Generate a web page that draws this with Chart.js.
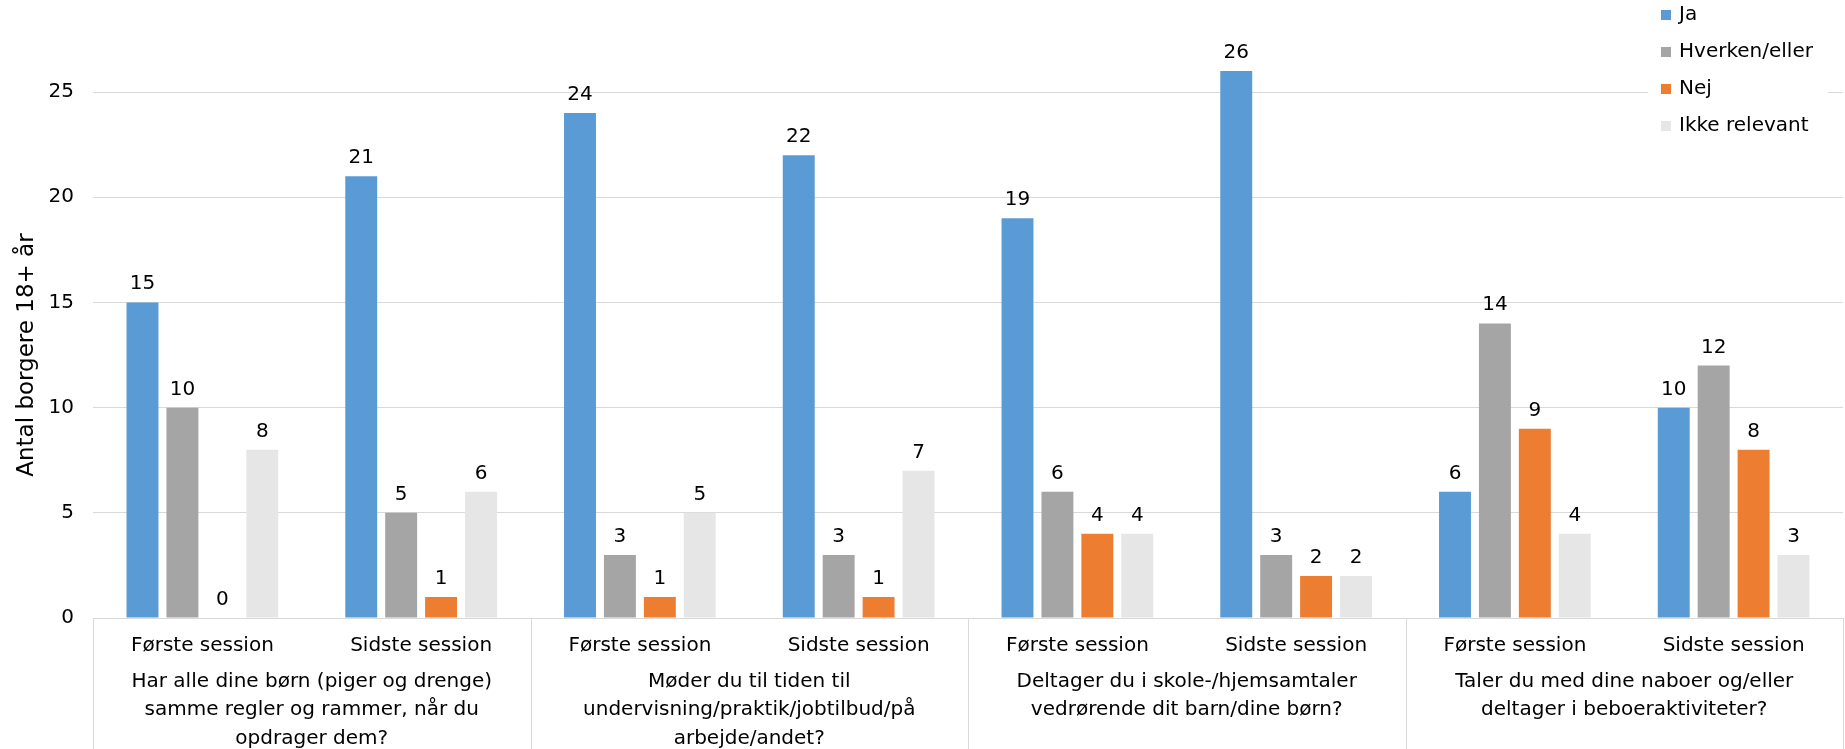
<!DOCTYPE html>
<html>
<head>
<meta charset="utf-8">
<script src="https://cdn.jsdelivr.net/npm/chart.js@4.4.1/dist/chart.umd.min.js"></script>
<style>
  html, body { margin: 0; padding: 0; background: #fff; }
</style>
</head>
<body>
<canvas id="surveyChart" width="1845" height="749"></canvas>
<script>
const sessions = ['Første session', 'Sidste session', 'Første session', 'Sidste session',
                  'Første session', 'Sidste session', 'Første session', 'Sidste session'];
const questions = [
  ['Har alle dine børn (piger og drenge)', 'samme regler og rammer, når du', 'opdrager dem?'],
  ['Møder du til tiden til', 'undervisning/praktik/jobtilbud/på', 'arbejde/andet?'],
  ['Deltager du i skole-/hjemsamtaler', 'vedrørende dit barn/dine børn?'],
  ['Taler du med dine naboer og/eller', 'deltager i beboeraktiviteter?']
];
const seriesNames = ['Ja', 'Hverken/eller', 'Nej', 'Ikke relevant'];
const ja = [15, 21, 24, 22, 19, 26, 6, 10];
const hverken = [10, 5, 3, 3, 6, 3, 14, 12];
const nej = [0, 1, 1, 1, 4, 2, 9, 8];
const ikkeRelevant = [8, 6, 5, 7, 4, 2, 4, 3];
const seriesColors = ['#5B9BD5', '#A5A5A5', '#ED7D31', '#E7E6E6'];
const yTicks = [0, 5, 10, 15, 20, 25];
const yTitle = 'Antal borgere 18+ år';

const FONT = '"DejaVu Sans", Verdana, sans-serif';
const TEXT = '#000';
const LINE = '#D9D9D9';

// numbers above each bar
const valueLabels = {
  id: 'valueLabels',
  afterDatasetsDraw(chart) {
    const ctx = chart.ctx;
    ctx.save();
    ctx.font = '20px ' + FONT;
    ctx.fillStyle = TEXT;
    ctx.textAlign = 'center';
    ctx.textBaseline = 'alphabetic';
    chart.data.datasets.forEach((ds, i) => {
      chart.getDatasetMeta(i).data.forEach((bar, j) => {
        ctx.fillText(String(ds.data[j]), bar.x, bar.y - 13);
      });
    });
    ctx.restore();
  }
};

// vertical separators between the question groups, below the plot
const groupDividers = {
  id: 'groupDividers',
  afterDraw(chart) {
    const x2 = chart.scales.x2;
    const ctx = chart.ctx;
    ctx.save();
    ctx.strokeStyle = LINE;
    ctx.lineWidth = 1;
    for (let i = 0; i <= questions.length; i++) {
      const px = Math.round(x2.getPixelForValue(i - 0.5)) + 0.5;
      ctx.beginPath();
      ctx.moveTo(px, chart.chartArea.bottom);
      ctx.lineTo(px, chart.height);
      ctx.stroke();
    }
    ctx.restore();
  }
};

// y axis title, Excel puts it a bit lower than the middle of the canvas area
const axisTitle = {
  id: 'axisTitle',
  afterDraw(chart) {
    const ctx = chart.ctx;
    const y = chart.scales.y;
    ctx.save();
    ctx.translate(27, (y.getPixelForValue(0) + y.getPixelForValue(25)) / 2);
    ctx.rotate(-Math.PI / 2);
    ctx.font = '23px ' + FONT;
    ctx.fillStyle = TEXT;
    ctx.textAlign = 'center';
    ctx.textBaseline = 'middle';
    ctx.fillText(yTitle, 0, 0);
    ctx.restore();
  }
};

// legend sits inside the plot at the top right, like in Excel
const cornerLegend = {
  id: 'cornerLegend',
  afterDraw(chart) {
    const ctx = chart.ctx;
    const left = chart.chartArea.right - 182;
    ctx.save();
    ctx.fillStyle = '#fff';
    ctx.fillRect(left - 13, 0, 180, 145);
    ctx.font = '20px ' + FONT;
    ctx.textBaseline = 'middle';
    ctx.textAlign = 'left';
    chart.data.datasets.forEach((ds, i) => {
      const y = 15 + i * 37;
      ctx.fillStyle = ds.backgroundColor;
      ctx.fillRect(left, y - 5, 10, 10);
      ctx.fillStyle = TEXT;
      ctx.fillText(ds.label, left + 18, y);
    });
    ctx.restore();
  }
};

const datasets = [ja, hverken, nej, ikkeRelevant].map((values, i) => ({
  label: seriesNames[i],
  data: values,
  backgroundColor: seriesColors[i],
  categoryPercentage: 0.73,
  barPercentage: 0.8,
  clip: false
}));

const chart = new Chart(document.getElementById('surveyChart'), {
  type: 'bar',
  data: { labels: sessions, datasets: datasets },
  options: {
    responsive: false,
    animation: false,
    events: [],
    layout: { padding: { top: 50, right: 2, left: 0, bottom: 0 } },
    plugins: { legend: { display: false }, tooltip: { enabled: false } },
    scales: {
      x: {
        grid: { display: false, drawTicks: false },
        border: { display: true, color: LINE, width: 1 },
        ticks: { color: TEXT, font: { family: FONT, size: 20 }, padding: 16, autoSkip: false, maxRotation: 0 },
        afterFit(scale) { scale.height = 45; }
      },
      x2: {
        type: 'category',
        labels: questions,
        position: 'bottom',
        weight: 1,
        offset: true,
        grid: { display: false, drawTicks: false },
        border: { display: false },
        ticks: { color: TEXT, font: { family: FONT, size: 20, lineHeight: 1.43 }, padding: 4, autoSkip: false, maxRotation: 0 },
        afterFit(scale) { scale.height = 86; }
      },
      y: {
        min: 0,
        max: 27,
        grid: { color: LINE, drawTicks: false },
        border: { display: false },
        ticks: { color: TEXT, font: { family: FONT, size: 20 }, padding: 19 },
        afterBuildTicks(scale) { scale.ticks = yTicks.map(v => ({ value: v })); },
        afterFit(scale) { scale.width = 93; }
      }
    }
  },
  plugins: [valueLabels, groupDividers, axisTitle, cornerLegend]
});
</script>
</body>
</html>
